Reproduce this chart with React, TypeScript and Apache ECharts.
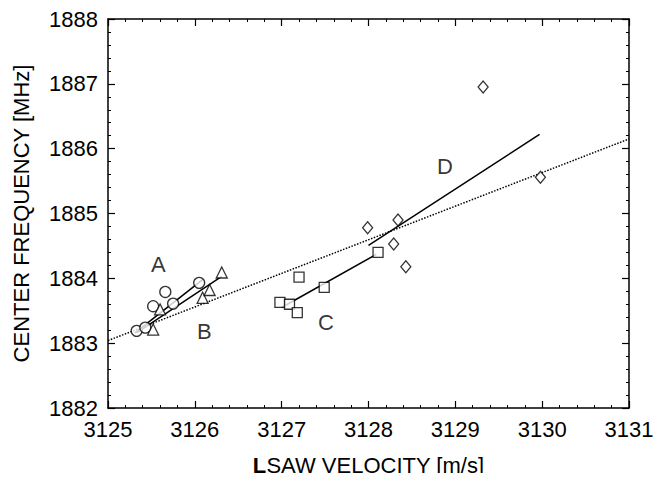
import React, { useEffect, useRef } from "react";
import * as echarts from "echarts";

const xTicks = [3125, 3126, 3127, 3128, 3129, 3130, 3131];
const yTicks = [1882, 1883, 1884, 1885, 1886, 1887, 1888];

// Group A: circles
const groupA: [number, number][] = [
  [3125.33, 1883.19],
  [3125.43, 1883.24],
  [3125.52, 1883.57],
  [3125.66, 1883.79],
  [3125.75, 1883.61],
  [3126.05, 1883.93],
];
// Group B: triangles
const groupB: [number, number][] = [
  [3125.52, 1883.21],
  [3125.6, 1883.52],
  [3126.09, 1883.7],
  [3126.17, 1883.82],
  [3126.31, 1884.09],
];
// Group C: squares
const groupC: [number, number][] = [
  [3126.98, 1883.63],
  [3127.09, 1883.6],
  [3127.18, 1883.47],
  [3127.2, 1884.02],
  [3127.49, 1883.86],
  [3128.11, 1884.4],
];
// Group D: diamonds
const groupD: [number, number][] = [
  [3127.99, 1884.78],
  [3128.34, 1884.9],
  [3128.29, 1884.53],
  [3128.43, 1884.18],
  [3129.32, 1886.95],
  [3129.98, 1885.56],
];

// Fit lines
const fitA: [number, number][] = [
  [3125.31, 1883.16],
  [3126.09, 1883.98],
];
const fitB: [number, number][] = [
  [3125.33, 1883.16],
  [3126.31, 1884.03],
];
const fitC: [number, number][] = [
  [3127.0, 1883.55],
  [3128.09, 1884.37],
];
const fitD: [number, number][] = [
  [3128.0, 1884.51],
  [3129.97, 1886.22],
];
const fitAll: [number, number][] = [
  [3125.0, 1883.04],
  [3131.0, 1886.15],
];

const groupLabels = ["A", "B", "C", "D"];
const groupLabelPos: [number, number][] = [
  [3125.58, 1884.22],
  [3126.11, 1883.18],
  [3127.51, 1883.32],
  [3128.88, 1885.72],
];

const FONT = "'Liberation Sans', Arial, Helvetica, sans-serif";

export default function App() {
  const ref = useRef<HTMLDivElement>(null);
  useEffect(() => {
    if (!ref.current) return;
    const chart = echarts.init(ref.current, undefined, { renderer: "svg" });
    const axisCommon = {
      type: "value" as const,
      axisLine: { show: true, onZero: false, lineStyle: { color: "#000", width: 1.5 } },
      axisTick: { show: true, inside: true, length: 7, lineStyle: { color: "#000", width: 1.2 } },
      minorTick: { show: true, splitNumber: 5, length: 3, lineStyle: { color: "#000", width: 1 } },
      splitLine: { show: false },
      minorSplitLine: { show: false },
    };
    const markerStyle = { color: "#fff", borderColor: "#000", borderWidth: 1.3 };
    const lineSeries = (data: [number, number][], type: string, width: number) => ({
      type: "line",
      data,
      showSymbol: false,
      symbol: "none",
      lineStyle: { color: "#000", width, type },
      silent: true,
      z: 2,
    });
    const labelStyle = { color: "#000", fontSize: 22, fontFamily: FONT, margin: 10, formatter: (v: number) => String(v) };
    chart.setOption({
      animation: false,
      backgroundColor: "#fff",
      grid: { left: 108, right: 36, top: 19, bottom: 70 },
      xAxis: [
        {
          ...axisCommon,
          position: "bottom",
          min: xTicks[0],
          max: xTicks[xTicks.length - 1],
          interval: 1,
          name: "{b|L}SAW VELOCITY [m/s]",
          nameLocation: "middle",
          nameGap: 46,
          nameTextStyle: {
            color: "#000",
            fontSize: 22,
            fontFamily: FONT,
            rich: { b: { color: "#000", fontSize: 22, fontFamily: FONT, fontWeight: "bold" } },
          },
          axisLabel: labelStyle,
        },
        {
          ...axisCommon,
          position: "top",
          min: xTicks[0],
          max: xTicks[xTicks.length - 1],
          interval: 1,
          axisLabel: { show: false },
        },
      ],
      yAxis: [
        {
          ...axisCommon,
          position: "left",
          min: yTicks[0],
          max: yTicks[yTicks.length - 1],
          interval: 1,
          name: "CENTER FREQUENCY [MHz]",
          nameLocation: "middle",
          nameGap: 76,
          nameTextStyle: { color: "#000", fontSize: 22, fontFamily: FONT },
          axisLabel: labelStyle,
        },
        {
          ...axisCommon,
          position: "right",
          min: yTicks[0],
          max: yTicks[yTicks.length - 1],
          interval: 1,
          axisLabel: { show: false },
        },
      ],
      series: [
        lineSeries(fitAll, "dotted", 1.5),
        lineSeries(fitA, "solid", 1.5),
        lineSeries(fitB, "solid", 1.5),
        lineSeries(fitC, "solid", 1.5),
        lineSeries(fitD, "solid", 1.5),
        { type: "scatter", data: groupA, symbol: "circle", symbolSize: 11, itemStyle: markerStyle, z: 3 },
        { type: "scatter", data: groupB, symbol: "triangle", symbolSize: 11, itemStyle: markerStyle, z: 3 },
        { type: "scatter", data: groupC, symbol: "rect", symbolSize: 10, itemStyle: markerStyle, z: 3 },
        { type: "scatter", data: groupD, symbol: "diamond", symbolSize: [10, 12], itemStyle: markerStyle, z: 3 },
        {
          type: "scatter",
          symbolSize: 1,
          itemStyle: { color: "rgba(0,0,0,0)" },
          silent: true,
          data: groupLabels.map((n, i) => ({ name: n, value: groupLabelPos[i] })),
          label: {
            show: true,
            position: "inside",
            formatter: (p: any) => p.name,
            color: "#000",
            fontSize: 22,
            fontFamily: FONT,
          },
          z: 4,
        },
      ],
    });
    return () => chart.dispose();
  }, []);
  return <div ref={ref} style={{ width: 665, height: 481, margin: -8 }} />;
}
